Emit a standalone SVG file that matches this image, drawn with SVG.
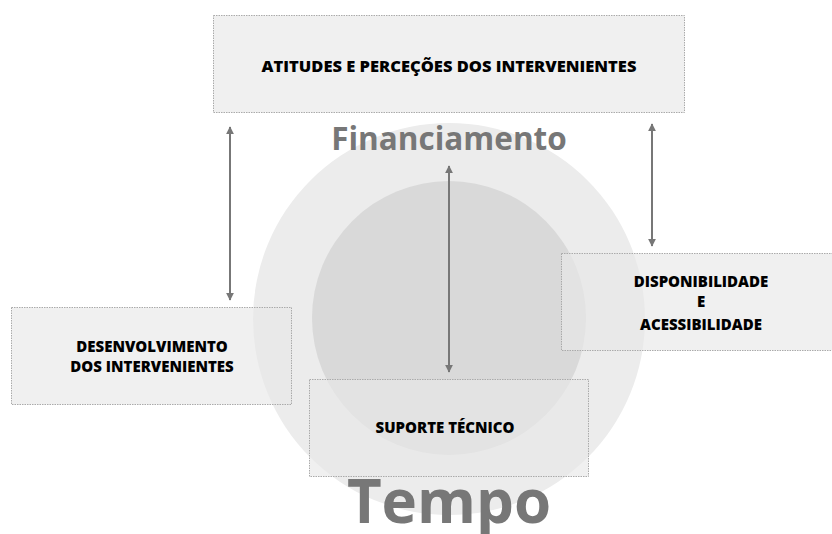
<svg xmlns="http://www.w3.org/2000/svg" width="832" height="534" viewBox="0 0 832 534">
<defs>
<marker id="ah" viewBox="0 0 10 10" refX="9" refY="5" markerWidth="4" markerHeight="4" orient="auto-start-reverse" markerUnits="strokeWidth">
<path d="M0,0 L10,5 L0,10 z" fill="#777"/>
</marker>
<style>
.box{fill:#e8e8e8;fill-opacity:0.65;stroke:#aaa;stroke-width:1;stroke-dasharray:1.5 1}
.lbl{font-family:"Open Sans","Liberation Sans",sans-serif;font-weight:800;font-size:15px;fill:#000;text-anchor:middle}
.big{font-family:"Open Sans","Liberation Sans",sans-serif;font-weight:bold;fill:#777;text-anchor:middle}
.conn{stroke:#777;stroke-width:2;fill:none;marker-start:url(#ah);marker-end:url(#ah)}
</style>
</defs>
<rect width="832" height="534" fill="#fff"/>
<g id="circles">
<circle cx="449" cy="319" r="196" fill="#ececec"/>
<circle cx="449" cy="318" r="137" fill="#d9d9d9"/>
</g>
<g id="financiamento"><text class="big" x="449" y="150" font-size="31.5">Financiamento</text></g>
<g id="tempo"><text class="big" x="449" y="523" font-size="60">Tempo</text></g>
<g id="atitudes">
<rect class="box" x="213.5" y="15.5" width="471" height="97"/>
<text class="lbl" x="449" y="72" font-size="16.5" style="font-size:16.5px">ATITUDES E PERCEÇÕES DOS INTERVENIENTES</text>
</g>
<g id="desenvolvimento">
<rect class="box" x="11.5" y="307.5" width="280" height="97"/>
<text class="lbl" x="152" y="352">DESENVOLVIMENTO</text>
<text class="lbl" x="152" y="372">DOS INTERVENIENTES</text>
</g>
<g id="disponibilidade">
<rect class="box" x="561.5" y="253.5" width="280" height="97"/>
<text class="lbl" x="701" y="287">DISPONIBILIDADE</text>
<text class="lbl" x="701" y="307">E</text>
<text class="lbl" x="701" y="330">ACESSIBILIDADE</text>
</g>
<g id="suporte">
<rect class="box" x="309.5" y="379.5" width="279" height="97"/>
<text class="lbl" x="445" y="433">SUPORTE TÉCNICO</text>
</g>
<g id="connectors">
<line class="conn" x1="230" y1="127" x2="230" y2="300"/>
<line class="conn" x1="449" y1="166" x2="449" y2="372"/>
<line class="conn" x1="652" y1="124" x2="652" y2="246"/>
</g>
</svg>
